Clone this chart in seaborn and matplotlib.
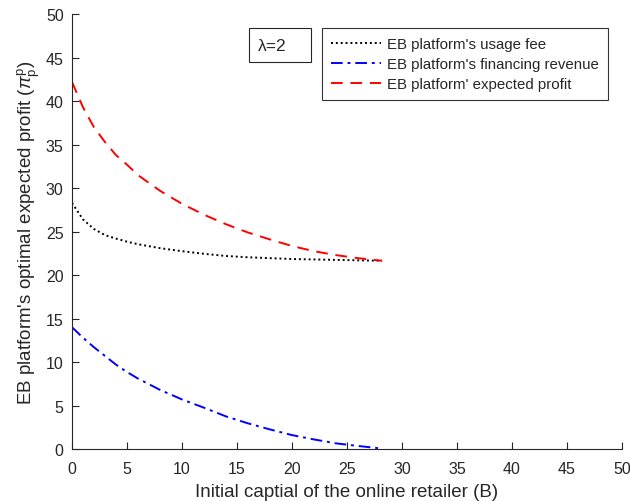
import numpy as np
import pandas as pd
import matplotlib
matplotlib.use("Agg")
import matplotlib.pyplot as plt
from matplotlib.patches import Rectangle
import seaborn as sns

# Data
capital = [0, 1, 2, 3, 4, 5, 6, 8, 10, 12, 14, 16, 18, 20, 22, 24, 26, 28.2]
usage_fee = [28.3, 26.4, 25.3, 24.6, 24.2, 23.85, 23.55, 23.1, 22.75, 22.45,
             22.2, 22.05, 21.95, 21.85, 21.8, 21.75, 21.7, 21.65]
financing_rev = [14.0, 12.8, 11.7, 10.7, 9.7, 8.85, 8.1, 6.8, 5.7, 4.75,
                 3.75, 2.95, 2.25, 1.6, 1.1, 0.65, 0.35, 0.05]
expected_profit = [42.2, 39.3, 37.0, 35.3, 33.8, 32.7, 31.5, 29.7, 28.2, 26.95,
                   25.85, 24.9, 24.1, 23.35, 22.75, 22.3, 21.95, 21.65]
series_names = ["EB platform's usage fee",
                "EB platform's financing revenue",
                "EB platform' expected profit"]
xticks = list(range(0, 51, 5))
yticks = list(range(0, 51, 5))

df = pd.concat([
    pd.DataFrame({"B": capital, "v": usage_fee, "s": series_names[0]}),
    pd.DataFrame({"B": capital, "v": financing_rev, "s": series_names[1]}),
    pd.DataFrame({"B": capital, "v": expected_profit, "s": series_names[2]}),
])

sns.set_style("ticks")
plt.rcParams["font.family"] = ["Liberation Sans", "DejaVu Sans"]
plt.rcParams["mathtext.fontset"] = "custom"
plt.rcParams["mathtext.rm"] = "Liberation Sans"
plt.rcParams["mathtext.it"] = "Liberation Sans:italic"

fig = plt.figure(figsize=(6.3, 5.02), dpi=100)
ax = fig.add_axes([0.1143, 0.1036, 0.8727, 0.866])

palette = {series_names[0]: "black", series_names[1]: "blue", series_names[2]: "red"}
dashes = {series_names[0]: (1, 1.5), series_names[1]: (6, 2.5, 1.5, 2.5),
          series_names[2]: (6, 4)}
sns.lineplot(data=df, x="B", y="v", hue="s", style="s", palette=palette,
             dashes=dashes, linewidth=1.4, ax=ax, sort=False, legend=True)

ax.set_xlim(0, 50)
ax.set_ylim(0, 50)
ax.set_xticks(xticks)
ax.set_yticks(yticks)
tc = "#262626"
ax.tick_params(direction="in", colors=tc, labelsize=11.5, length=5, width=0.8)
ax.tick_params(axis="x", pad=9)
ax.tick_params(axis="y", pad=6)
for s in ["top", "right"]:
    ax.spines[s].set_visible(False)
for s in ["left", "bottom"]:
    ax.spines[s].set_color(tc)
    ax.spines[s].set_linewidth(0.8)
ax.set_xlabel("Initial captial of the online retailer (B)", fontsize=13.5, color=tc, labelpad=5)
ax.set_ylabel(r"EB platform's optimal expected profit ($\pi_\mathrm{p}^\mathrm{p}$)",
              fontsize=13.5, color=tc, labelpad=3)

leg = ax.legend(loc="upper right", bbox_to_anchor=(0.9745, 0.968), fontsize=10.8,
                frameon=True, fancybox=False, handlelength=3.33, borderpad=0.6,
                labelspacing=0.4, handletextpad=0.4, borderaxespad=0)
leg.get_frame().set_edgecolor("black")
leg.get_frame().set_linewidth(0.8)
leg.set_title(None)

ax.add_patch(Rectangle((0.3218, 0.890), 0.1127, 0.078, transform=ax.transAxes,
                       fc="white", ec="#262626", lw=0.8, zorder=5))
ax.text(0.338, 0.929, "λ=2", transform=ax.transAxes, fontsize=12.5, color=tc,
        va="center", ha="left", zorder=6)

fig.savefig("out.png", dpi=100)
